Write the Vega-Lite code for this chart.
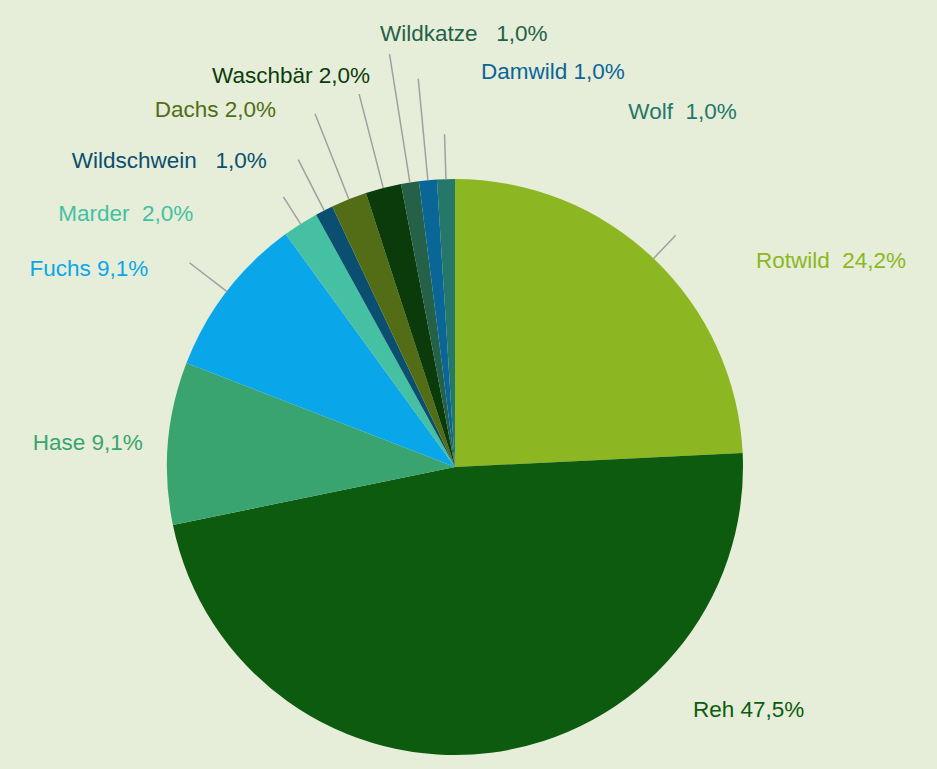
{
  "$schema": "https://vega.github.io/schema/vega-lite/v6.json",
  "width": 910,
  "height": 604,
  "autosize": {"type": "none"},
  "padding": {"left": 0, "top": 165, "right": 27, "bottom": 0},
  "background": "#e6eed9",
  "config": {"view": {"stroke": null}, "text": {"font": "Liberation Sans", "fontSize": 22.5}},
  "data": {"values": [
    {"Wildart": "Rotwild", "Anteil": 24.2, "Beschriftung": "Rotwild\u00a0\u00a024,2%", "Reihenfolge": 1},
    {"Wildart": "Reh", "Anteil": 47.5, "Beschriftung": "Reh 47,5%", "Reihenfolge": 2},
    {"Wildart": "Hase", "Anteil": 9.1, "Beschriftung": "Hase 9,1%", "Reihenfolge": 3},
    {"Wildart": "Fuchs", "Anteil": 9.1, "Beschriftung": "Fuchs 9,1%", "Reihenfolge": 4},
    {"Wildart": "Marder", "Anteil": 2.0, "Beschriftung": "Marder\u00a0\u00a02,0%", "Reihenfolge": 5},
    {"Wildart": "Wildschwein", "Anteil": 1.0, "Beschriftung": "Wildschwein\u00a0\u00a0\u00a01,0%", "Reihenfolge": 6},
    {"Wildart": "Dachs", "Anteil": 2.0, "Beschriftung": "Dachs 2,0%", "Reihenfolge": 7},
    {"Wildart": "Waschbär", "Anteil": 2.0, "Beschriftung": "Waschbär 2,0%", "Reihenfolge": 8},
    {"Wildart": "Wildkatze", "Anteil": 1.0, "Beschriftung": "Wildkatze\u00a0\u00a0\u00a01,0%", "Reihenfolge": 9},
    {"Wildart": "Damwild", "Anteil": 1.0, "Beschriftung": "Damwild 1,0%", "Reihenfolge": 10},
    {"Wildart": "Wolf", "Anteil": 1.0, "Beschriftung": "Wolf\u00a0\u00a01,0%", "Reihenfolge": 11}
  ]},
  "encoding": {
    "theta": {"field": "Anteil", "type": "quantitative", "stack": true},
    "order": {"field": "Reihenfolge", "type": "quantitative", "sort": "ascending"},
    "color": {
      "field": "Wildart",
      "type": "nominal",
      "legend": null,
      "scale": {
        "domain": ["Rotwild", "Reh", "Hase", "Fuchs", "Marder", "Wildschwein", "Dachs", "Waschbär", "Wildkatze", "Damwild", "Wolf"],
        "range": ["#8cb722", "#0c5b0e", "#3aa470", "#0aa6ea", "#45c0a2", "#0b4f70", "#526d16", "#0b3b0b", "#246148", "#0a6697", "#25776a"]
      }
    }
  },
  "layer": [
    {"mark": {"type": "arc", "radius": 288}},
    {"mark": {"type": "arc", "radius": 320, "radius2": 288, "padAngle": 3, "filled": false, "strokeWidth": 1.5},
     "encoding": {"color": {"value": "#a0a0a0"}, "opacity": {"condition": {"test": "datum.Wildart === 'Rotwild' || datum.Wildart === 'Marder'", "value": 1}, "value": 0}}},
    {"mark": {"type": "arc", "radius": 335, "radius2": 288, "padAngle": 3, "filled": false, "strokeWidth": 1.5},
     "encoding": {"color": {"value": "#a0a0a0"}, "opacity": {"condition": {"test": "datum.Wildart === 'Fuchs'", "value": 1}, "value": 0}}},
    {"mark": {"type": "arc", "radius": 345, "radius2": 288, "padAngle": 3, "filled": false, "strokeWidth": 1.5},
     "encoding": {"color": {"value": "#a0a0a0"}, "opacity": {"condition": {"test": "datum.Wildart === 'Wildschwein'", "value": 1}, "value": 0}}},
    {"mark": {"type": "arc", "radius": 380, "radius2": 288, "padAngle": 3, "filled": false, "strokeWidth": 1.5},
     "encoding": {"color": {"value": "#a0a0a0"}, "opacity": {"condition": {"test": "datum.Wildart === 'Dachs'", "value": 1}, "value": 0}}},
    {"mark": {"type": "arc", "radius": 385, "radius2": 288, "padAngle": 3, "filled": false, "strokeWidth": 1.5},
     "encoding": {"color": {"value": "#a0a0a0"}, "opacity": {"condition": {"test": "datum.Wildart === 'Waschbär'", "value": 1}, "value": 0}}},
    {"mark": {"type": "arc", "radius": 418, "radius2": 288, "padAngle": 3, "filled": false, "strokeWidth": 1.5},
     "encoding": {"color": {"value": "#a0a0a0"}, "opacity": {"condition": {"test": "datum.Wildart === 'Wildkatze'", "value": 1}, "value": 0}}},
    {"mark": {"type": "arc", "radius": 390, "radius2": 288, "padAngle": 3, "filled": false, "strokeWidth": 1.5},
     "encoding": {"color": {"value": "#a0a0a0"}, "opacity": {"condition": {"test": "datum.Wildart === 'Damwild'", "value": 1}, "value": 0}}},
    {"mark": {"type": "arc", "radius": 333, "radius2": 288, "padAngle": 3, "filled": false, "strokeWidth": 1.5},
     "encoding": {"color": {"value": "#a0a0a0"}, "opacity": {"condition": {"test": "datum.Wildart === 'Wolf'", "value": 1}, "value": 0}}},
    {"mark": {"type": "text", "radius": 320, "align": "left", "baseline": "alphabetic", "dx": 80.3, "dy": 32.7},
     "encoding": {"text": {"condition": {"test": "datum.Wildart === 'Rotwild'", "field": "Beschriftung"}, "value": ""}}},
    {"mark": {"type": "text", "radius": 320, "align": "left", "baseline": "alphabetic", "dx": 197.8, "dy": -67.2},
     "encoding": {"text": {"condition": {"test": "datum.Wildart === 'Reh'", "field": "Beschriftung"}, "value": ""}}},
    {"mark": {"type": "text", "radius": 320, "align": "right", "baseline": "alphabetic", "dx": 6.6, "dy": 9.6},
     "encoding": {"text": {"condition": {"test": "datum.Wildart === 'Hase'", "field": "Beschriftung"}, "value": ""}}},
    {"mark": {"type": "text", "radius": 335, "align": "right", "baseline": "alphabetic", "dx": -41.2, "dy": 13},
     "encoding": {"text": {"condition": {"test": "datum.Wildart === 'Fuchs'", "field": "Beschriftung"}, "value": ""}}},
    {"mark": {"type": "text", "radius": 320, "align": "right", "baseline": "alphabetic", "dx": -90.1, "dy": 23.8},
     "encoding": {"text": {"condition": {"test": "datum.Wildart === 'Marder'", "field": "Beschriftung"}, "value": ""}}},
    {"mark": {"type": "text", "radius": 345, "align": "right", "baseline": "alphabetic", "dx": -31.5, "dy": 8.6},
     "encoding": {"text": {"condition": {"test": "datum.Wildart === 'Wildschwein'", "field": "Beschriftung"}, "value": ""}}},
    {"mark": {"type": "text", "radius": 380, "align": "right", "baseline": "alphabetic", "dx": -39, "dy": 3.5},
     "encoding": {"text": {"condition": {"test": "datum.Wildart === 'Dachs'", "field": "Beschriftung"}, "value": ""}}},
    {"mark": {"type": "text", "radius": 385, "align": "right", "baseline": "alphabetic", "dx": 10.8, "dy": -11.4},
     "encoding": {"text": {"condition": {"test": "datum.Wildart === 'Waschbär'", "field": "Beschriftung"}, "value": ""}}},
    {"mark": {"type": "text", "radius": 418, "align": "left", "baseline": "alphabetic", "dx": -9.5, "dy": -13.4},
     "encoding": {"text": {"condition": {"test": "datum.Wildart === 'Wildkatze'", "field": "Beschriftung"}, "value": ""}}},
    {"mark": {"type": "text", "radius": 390, "align": "left", "baseline": "alphabetic", "dx": 62.8, "dy": 0.2},
     "encoding": {"text": {"condition": {"test": "datum.Wildart === 'Damwild'", "field": "Beschriftung"}, "value": ""}}},
    {"mark": {"type": "text", "radius": 333, "align": "left", "baseline": "alphabetic", "dx": 183.8, "dy": -14.9},
     "encoding": {"text": {"condition": {"test": "datum.Wildart === 'Wolf'", "field": "Beschriftung"}, "value": ""}}}
  ]
}
